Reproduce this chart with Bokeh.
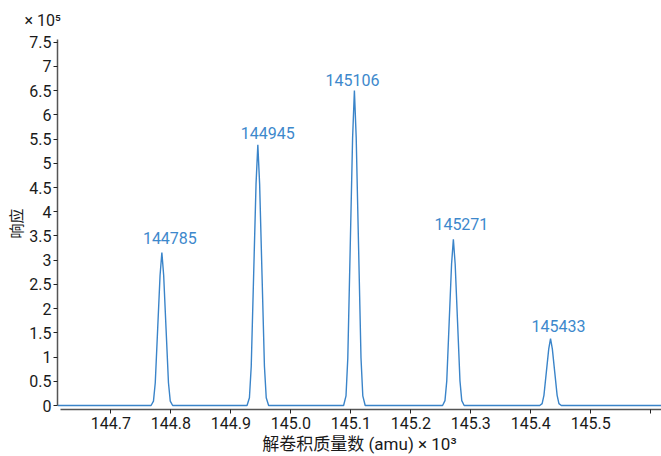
from bokeh.plotting import figure
from bokeh.models import FixedTicker, Range1d, ColumnDataSource
from bokeh.core.properties import value
from bokeh.embed import file_html
from bokeh.resources import INLINE

# ---- data (mass in kDa, response in 1e5 counts) ----
baseline_start = [144.611]
baseline_start_resp = [0.0]

peak1_mass = [144.767, 144.771, 144.774, 144.778, 144.782, 144.785, 144.788, 144.792, 144.796, 144.799, 144.803]
peak1_resp = [0.0, 0.09, 0.47, 1.58, 2.69, 3.16, 2.69, 1.58, 0.47, 0.09, 0.0]

peak2_mass = [144.927, 144.931, 144.934, 144.938, 144.942, 144.945, 144.948, 144.952, 144.956, 144.959, 144.963]
peak2_resp = [0.0, 0.16, 0.81, 2.69, 4.57, 5.38, 4.57, 2.69, 0.81, 0.16, 0.0]

peak3_mass = [145.088, 145.092, 145.095, 145.099, 145.103, 145.106, 145.109, 145.113, 145.117, 145.120, 145.124]
peak3_resp = [0.0, 0.20, 0.98, 3.25, 5.53, 6.50, 5.53, 3.25, 0.98, 0.20, 0.0]

peak4_mass = [145.253, 145.257, 145.260, 145.264, 145.268, 145.271, 145.274, 145.278, 145.282, 145.285, 145.289]
peak4_resp = [0.0, 0.10, 0.51, 1.72, 2.92, 3.43, 2.92, 1.72, 0.51, 0.10, 0.0]

peak5_mass = [145.415, 145.419, 145.422, 145.426, 145.430, 145.433, 145.436, 145.440, 145.444, 145.447, 145.451]
peak5_resp = [0.0, 0.04, 0.21, 0.69, 1.17, 1.38, 1.17, 0.69, 0.21, 0.04, 0.0]

baseline_end = [145.618]
baseline_end_resp = [0.0]

peak_labels = ["144785", "144945", "145106", "145271", "145433"]
peak_mass = [144.785, 144.945, 145.106, 145.271, 145.433]
peak_height = [3.16, 5.38, 6.50, 3.43, 1.38]

x_ticks = [144.7, 144.8, 144.9, 145.0, 145.1, 145.2, 145.3, 145.4, 145.5, 145.6]
x_tick_labels = ["144.7", "144.8", "144.9", "145.0", "145.1", "145.2", "145.3", "145.4", "145.5", ""]
y_ticks = [0, 0.5, 1, 1.5, 2, 2.5, 3, 3.5, 4, 4.5, 5, 5.5, 6, 6.5, 7, 7.5]
y_tick_labels = ["0", "0.5", "1", "1.5", "2", "2.5", "3", "3.5", "4", "4.5", "5", "5.5", "6", "6.5", "7", "7.5"]
x_title = "解卷积质量数 (amu) × 10³"
y_title = "响应"
y_scale_note = "× 10⁵"

# ---- styles ----
LINE = "#3a84c9"
LABEL = "#3d88cc"
AXIS = "#555555"
FONT = "Roboto"
CJK = "Noto Sans CJK SC"
label_dx = [8, 10, -2, 8, 8]
label_dy = [-14, -12, -11, -15, -13]
X0, X1 = 144.611, 145.618
Y0, Y1 = -0.082, 7.597

mass = baseline_start + peak1_mass + peak2_mass + peak3_mass + peak4_mass + peak5_mass + baseline_end
resp = baseline_start_resp + peak1_resp + peak2_resp + peak3_resp + peak4_resp + peak5_resp + baseline_end_resp

p = figure(width=661, height=456, frame_width=604,
           output_backend="svg", toolbar_location=None,
           x_range=Range1d(X0, X1), y_range=Range1d(Y0, Y1),
           min_border_left=57, min_border_right=0, min_border_top=36, min_border_bottom=47)
p.outline_line_color = None
p.xgrid.visible = False
p.ygrid.visible = False
p.background_fill_color = "white"

p.title.text = y_scale_note
p.title.align = "left"
p.title.offset = -33
p.title.standoff = 16
p.title.text_font = FONT
p.title.text_font_style = "normal"
p.title.text_font_size = "16px"
p.title.text_color = "#1a1a1a"

p.line(mass, resp, line_color=LINE, line_width=1.4)

src = ColumnDataSource(dict(x=peak_mass, y=peak_height, t=peak_labels, dx=label_dx, dy=label_dy))
p.text(x="x", y="y", text="t", source=src, x_offset="dx", y_offset="dy",
       text_align="center", text_baseline="middle", text_color=LABEL,
       text_font=value(FONT), text_font_size="16px")

# x axis
xa = p.xaxis[0]
xa.ticker = FixedTicker(ticks=x_ticks)
xa.major_label_overrides = {t: l for t, l in zip(x_ticks, x_tick_labels)}
xa.bounds = (144.616, X1)
xa.axis_line_color = AXIS
xa.axis_line_width = 1.5
xa.major_tick_line_color = "#222222"
xa.major_tick_out = 4
xa.major_tick_in = 0
xa.minor_tick_line_color = None
xa.major_label_text_font = FONT
xa.major_label_text_font_size = "16px"
xa.major_label_text_color = "#1a1a1a"
xa.major_label_standoff = 3
xa.axis_label = x_title
xa.axis_label_text_font = "Roboto, 'Noto Sans CJK SC'"
xa.axis_label_text_font_style = "normal"
xa.axis_label_text_font_size = "17px"
xa.axis_label_text_color = "#1a1a1a"
xa.axis_label_standoff = 2

# y axis
ya = p.yaxis[0]
ya.ticker = FixedTicker(ticks=y_ticks)
ya.major_label_overrides = {t: l for t, l in zip(y_ticks, y_tick_labels)}
ya.bounds = (0, 7.55)
ya.axis_line_color = AXIS
ya.axis_line_width = 1.5
ya.major_tick_line_color = "#222222"
ya.major_tick_out = 4
ya.major_tick_in = 0
ya.minor_tick_line_color = None
ya.major_label_text_font = FONT
ya.major_label_text_font_size = "16px"
ya.major_label_text_color = "#1a1a1a"
ya.major_label_standoff = 2
ya.axis_label = y_title
ya.axis_label_text_font = CJK
ya.axis_label_text_font_style = "normal"
ya.axis_label_text_font_size = "15px"
ya.axis_label_text_color = "#1a1a1a"
ya.axis_label_standoff = 0

open("out.html", "w").write(file_html(p, INLINE))
